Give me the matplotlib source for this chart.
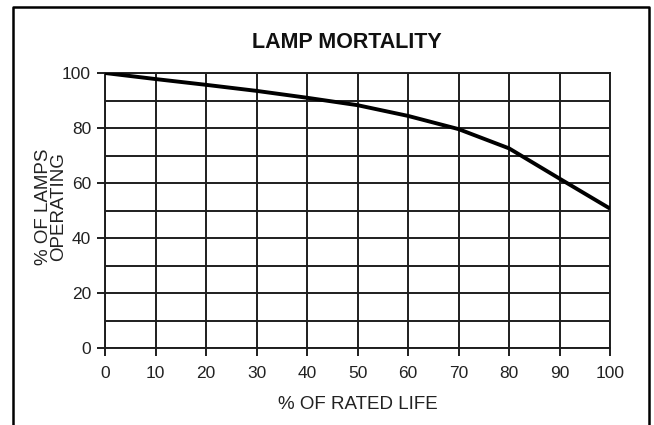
import matplotlib
matplotlib.use("Agg")
import matplotlib.pyplot as plt
from matplotlib.lines import Line2D

rated_life = [0, 10, 20, 30, 40, 50, 60, 70, 80, 90, 100]
lamps_operating = [100, 97.8, 95.7, 93.5, 91.0, 88.3, 84.4, 79.6, 72.6, 61.6, 50.7]
x_ticks = [0, 10, 20, 30, 40, 50, 60, 70, 80, 90, 100]
y_ticks = [0, 20, 40, 60, 80, 100]
y_grid = [0, 10, 20, 30, 40, 50, 60, 70, 80, 90, 100]

plt.rcParams['font.family'] = ['Liberation Sans', 'DejaVu Sans']

fig = plt.figure(figsize=(6.54, 4.25), dpi=100)
W, H = 654, 425
ax = fig.add_axes([105 / W, 1 - 348 / H, (610 - 105) / W, (348 - 73) / H])

gc = '#1e1e1e'
for v in x_ticks:
    ax.axvline(v, color=gc, lw=1.4, zorder=1)
for v in y_grid:
    ax.axhline(v, color=gc, lw=1.4, zorder=1)

ax.plot(rated_life, lamps_operating, color='black', lw=2.8, zorder=3,
        solid_capstyle='butt')

ax.set_xlim(0, 100)
ax.set_ylim(0, 100)
ax.set_xticks(x_ticks)
ax.set_yticks(y_ticks)
ax.tick_params(axis='both', direction='out', length=6, width=1.4, color=gc,
               labelsize=12.5, labelcolor='#222222')
ax.tick_params(axis='x', pad=7)
ax.tick_params(axis='y', pad=4)
for s in ax.spines.values():
    s.set_color(gc)
    s.set_linewidth(1.4)

ax.set_xlabel('% OF RATED LIFE', fontsize=13.5, color='#222222', labelpad=11)
ax.set_ylabel('% OF LAMPS\nOPERATING', fontsize=13.5, color='#222222',
              linespacing=0.9, va='center')
ax.yaxis.set_label_coords(-0.107, 0.513)

fig.text(347 / W, 1 - 42 / H, 'LAMP MORTALITY', ha='center', va='center',
         fontsize=15.5, fontweight='bold', color='#111111')

# outer frame (left, top, right)
x0, x1, y0 = 13 / W, 649 / W, 1 - 7 / H
fig.add_artist(Line2D([x0, x0, x1, x1], [0, y0, y0, 0], transform=fig.transFigure,
                      color='black', lw=1.8))

fig.savefig('out.png', dpi=100)
